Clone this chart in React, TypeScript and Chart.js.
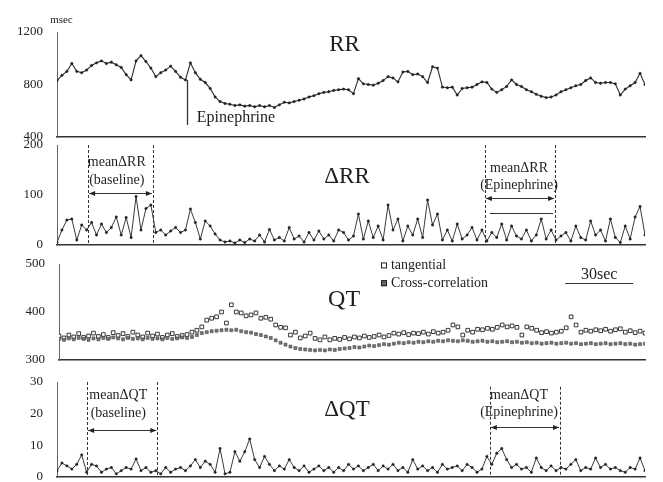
import React, { useEffect, useRef } from "react";
import { Chart, registerables } from "chart.js";

Chart.register(...registerables);

const SERIF = '"Liberation Serif", "DejaVu Serif", serif';

// ---- data (beat index along the recording) ----
const rrValues = [
  830, 870, 900, 960, 900, 890, 910, 945, 965, 980,
  960, 970, 950, 930, 875, 835, 980, 1020, 975, 925,
  860, 890, 910, 940, 900, 855, 835, 965, 890, 840,
  815, 770, 705, 670, 655, 650, 640, 645, 635, 640,
  630, 640, 630, 640, 625, 645, 665, 660, 670, 680,
  690, 705, 715, 730, 740, 745, 755, 760, 765, 760,
  730, 845, 805, 800, 795, 810, 830, 860, 850, 820,
  895, 900, 875, 880, 860, 815, 935, 925, 780, 775,
  780, 720, 770, 775, 780, 800, 820, 815, 765, 740,
  760, 785, 835, 800, 785, 760, 745, 725, 710, 700,
  705, 720, 745, 760, 775, 790, 800, 830, 850, 815,
  810, 815, 815, 805, 720, 765, 790, 815, 885, 800,
];

const dRRValues = [
  5, 30, 50, 52, 10, 40, 30, 45, 20, 42,
  25, 35, 56, 20, 55, 15, 97, 30, 73, 80,
  25, 30, 20, 28, 35, 25, 30, 72, 45, 12,
  48, 38, 22, 10, 6, 8, 4, 10, 5, 12,
  8, 20, 6, 31, 10, 15, 8, 35, 12, 18,
  6, 25, 10, 28, 12, 20, 8, 30, 25, 10,
  18, 62, 12, 48, 15, 38, 10, 80, 30, 52,
  8, 38, 20, 52, 15, 90, 40, 62, 10, 30,
  8, 42, 12, 20, 35, 10, 30, 8, 25, 15,
  42, 10, 38, 18, 12, 30, 8, 20, 52, 12,
  30, 10, 18, 25, 8, 38, 15, 10, 48, 20,
  30, 8, 52, 15, 5, 38, 12, 56, 77, 20,
];

const qtTangential = [
  350, 346, 352, 348, 355, 347, 350, 356, 349, 353,
  347, 357, 351, 355, 349, 358, 352, 348, 356, 350,
  354, 347, 352, 355, 349, 351, 353, 358, 362, 369,
  383, 387, 390, 400, 377, 415, 400, 398, 392, 394,
  398, 387, 389, 385, 373, 368, 367, 352, 358, 346,
  350, 356, 345, 342, 348, 342, 345, 343, 347, 344,
  348, 346, 350, 347, 349, 352, 348, 351, 356, 354,
  357, 353, 356, 355, 358, 354, 359, 356, 358, 362,
  373, 369, 352, 362, 358, 364, 363, 366, 364, 368,
  373, 369, 371, 368, 352, 369, 366, 362, 357, 359,
  356, 358, 360, 367, 390, 373, 358, 362, 360, 363,
  361, 364, 360, 363, 365, 358, 361, 357, 360, 356,
];

const qtCross = [
  344, 342, 345, 343, 346, 344, 342, 345, 343, 346,
  344, 347, 345, 343, 346, 344, 345, 343, 346, 344,
  345, 343, 346, 344, 345, 347, 346, 348, 352, 356,
  358, 360, 361, 362, 363, 362, 363, 360, 358, 357,
  354, 352, 349, 346, 341, 336, 332, 328, 325, 323,
  322, 321, 320, 321, 320, 322, 321, 323, 324, 325,
  327, 326, 328, 330, 329, 331, 333, 332, 334, 336,
  335, 337, 336, 338, 337, 339, 338, 340, 339, 341,
  340, 339, 341, 340, 338, 339, 340, 338, 339, 337,
  338, 339, 337, 338, 336, 337, 335, 336, 334, 335,
  336, 334, 335, 336, 334, 335, 333, 334, 335, 333,
  334, 335, 333, 334, 335, 333, 334, 332, 333, 334,
];

const dQTValues = [
  2, 4.4, 3.5, 2.5, 4, 7, 1.5, 4, 3.5, 1.5,
  2.5, 3, 1, 2, 3, 2.5, 5.7, 2, 3, 1.5,
  2, 1, 3, 1.5, 2.5, 3, 2, 3.5, 5.5, 3,
  5, 4, 1.5, 9, 1, 1.5, 8, 5, 8, 12,
  5.5, 3, 6.5, 4, 2, 3.5, 2.5, 5.5, 3, 2,
  3.5, 1.5, 2.5, 3.5, 2, 3, 1.5, 3, 2, 4,
  2.5, 3.5, 2, 3, 4, 2, 3.5, 2.5, 4, 2,
  3, 1.5, 5.5, 2.5, 3.5, 2, 3, 1.5, 4, 2.5,
  3, 3.5, 2, 4, 3, 1.5, 2.5, 6.5, 4, 7.5,
  9, 5.5, 3, 4, 2.5, 3, 1.5, 6, 3, 2,
  3.5, 2, 3, 2.5, 4, 5.5, 2, 3, 2.5, 6,
  3, 4, 2.5, 3, 2, 1.5, 3, 2.5, 6, 2,
];

const rrTicks = [400, 800, 1200];
const dRRTicks = [0, 100, 200];
const qtTicks = [300, 400, 500];
const dQTTicks = [0, 10, 20, 30];

const N = rrValues.length;
const CANVAS_W = 663;
const CANVAS_H = 500;

const pts = (arr: number[]) => arr.map((v, i) => ({ x: i, y: v }));

// ---- annotation plugin (positions in data units) ----
const annotPlugin = {
  id: "annot",
  afterDraw(chart: any, _args: any, opts: any) {
    const items = (opts && opts.items) || [];
    const ctx = chart.ctx as CanvasRenderingContext2D;
    const xs = chart.scales.x;
    const ys = chart.scales.y;
    const X = (v: number) => xs.getPixelForValue(v);
    const Y = (v: number) => ys.getPixelForValue(v);
    ctx.save();
    ctx.strokeStyle = "#333";
    ctx.fillStyle = "#1e1e1e";
    for (const it of items) {
      ctx.setLineDash([]);
      if (it.t === "text") {
        ctx.font = `${it.size}px ${SERIF}`;
        ctx.textAlign = it.align || "center";
        ctx.textBaseline = "middle";
        ctx.fillStyle = "#1e1e1e";
        ctx.fillText(it.text, X(it.x), Y(it.y));
      } else if (it.t === "vline" || it.t === "vdash") {
        if (it.t === "vdash") ctx.setLineDash([3, 2]);
        ctx.lineWidth = it.w || 1;
        const px = Math.round(X(it.x)) + 0.5;
        ctx.beginPath();
        ctx.moveTo(px, Y(it.y1));
        ctx.lineTo(px, Y(it.y2));
        ctx.stroke();
      } else if (it.t === "hline") {
        ctx.lineWidth = it.w || 1;
        const py = Math.round(Y(it.y)) + 0.5;
        ctx.beginPath();
        ctx.moveTo(X(it.x1), py);
        ctx.lineTo(X(it.x2), py);
        ctx.stroke();
      } else if (it.t === "arrow") {
        ctx.lineWidth = 1;
        const py = Math.round(Y(it.y)) + 0.5;
        const a = X(it.x1) + 1;
        const b = X(it.x2) - 1;
        ctx.beginPath();
        ctx.moveTo(a, py);
        ctx.lineTo(b, py);
        ctx.stroke();
        ctx.fillStyle = "#222";
        ctx.beginPath();
        ctx.moveTo(a, py);
        ctx.lineTo(a + 6, py - 2.5);
        ctx.lineTo(a + 6, py + 2.5);
        ctx.closePath();
        ctx.fill();
        ctx.beginPath();
        ctx.moveTo(b, py);
        ctx.lineTo(b - 6, py - 2.5);
        ctx.lineTo(b - 6, py + 2.5);
        ctx.closePath();
        ctx.fill();
      } else if (it.t === "square") {
        const cx = X(it.x);
        const cy = Y(it.y);
        ctx.lineWidth = 1;
        ctx.fillStyle = it.fill;
        ctx.fillRect(cx - 3, cy - 3, 6, 6);
        ctx.strokeStyle = "#222";
        ctx.strokeRect(cx - 2.5, cy - 2.5, 5, 5);
        ctx.strokeStyle = "#333";
      }
    }
    ctx.restore();
  },
};

type PanelCfg = {
  top: number;
  bottom: number;
  axisX: number;
  min: number;
  max: number;
  ticks: number[];
  datasets: any[];
  items: any[];
};

const panels: PanelCfg[] = [
  {
    top: 32,
    bottom: 137,
    axisX: 57,
    min: 400,
    max: 1200,
    ticks: rrTicks,
    datasets: [
      {
        data: pts(rrValues),
        borderColor: "#2a2a2a",
        borderWidth: 1.1,
        pointRadius: 1.2,
        pointBackgroundColor: "#222",
        pointBorderColor: "#222",
        pointBorderWidth: 0.5,
      },
    ],
    items: [
      { t: "text", text: "msec", x: 0.9, y: 1292, size: 11 },
      { t: "text", text: "RR", x: 58.2, y: 1100, size: 23 },
      { t: "vline", x: 26.3, y1: 835, y2: 492, w: 1.3 },
      { t: "text", text: "Epinephrine", x: 28.3, y: 548, size: 16, align: "left" },
    ],
  },
  {
    top: 145,
    bottom: 245,
    axisX: 57,
    min: 0,
    max: 200,
    ticks: dRRTicks,
    datasets: [
      {
        data: pts(dRRValues),
        borderColor: "#3a3a3a",
        borderWidth: 1,
        pointRadius: 1.2,
        pointBackgroundColor: "#222",
        pointBorderColor: "#222",
        pointBorderWidth: 0.5,
      },
    ],
    items: [
      { t: "vdash", x: 6.3, y1: 200, y2: 0 },
      { t: "vdash", x: 19.4, y1: 200, y2: 0 },
      { t: "text", text: "mean\u0394RR", x: 12.1, y: 166, size: 14 },
      { t: "text", text: "(baseline)", x: 12.1, y: 130, size: 14 },
      { t: "arrow", x1: 6.3, x2: 19.4, y: 104 },
      { t: "text", text: "\u0394RR", x: 58.7, y: 136, size: 23 },
      { t: "vdash", x: 86.6, y1: 200, y2: 0 },
      { t: "vdash", x: 100.8, y1: 200, y2: 0 },
      { t: "text", text: "mean\u0394RR", x: 93.5, y: 154, size: 14 },
      { t: "text", text: "(Epinephrine)", x: 93.5, y: 120, size: 14 },
      { t: "arrow", x1: 86.6, x2: 100.8, y: 94 },
      { t: "hline", x1: 87.6, x2: 100.4, y: 64, w: 1.2 },
    ],
  },
  {
    top: 264,
    bottom: 360,
    axisX: 59,
    min: 300,
    max: 500,
    ticks: qtTicks,
    datasets: [
      {
        label: "Cross-correlation",
        data: pts(qtCross),
        showLine: false,
        pointStyle: "rect",
        pointRadius: 2.1,
        pointBackgroundColor: "#777",
        pointBorderColor: "#444",
        pointBorderWidth: 0.6,
      },
      {
        label: "tangential",
        data: pts(qtTangential),
        showLine: false,
        pointStyle: "rect",
        pointRadius: 2.6,
        pointBackgroundColor: "#fff",
        pointBorderColor: "#222",
        pointBorderWidth: 0.9,
      },
    ],
    items: [
      { t: "square", x: 66.0, y: 497, fill: "#fff" },
      { t: "text", text: "tangential", x: 67.4, y: 497, size: 14, align: "left" },
      { t: "square", x: 66.0, y: 460, fill: "#666" },
      { t: "text", text: "Cross-correlation", x: 67.4, y: 460, size: 14, align: "left" },
      { t: "text", text: "QT", x: 57.9, y: 425, size: 24 },
      { t: "text", text: "30sec", x: 109.7, y: 478, size: 16 },
      { t: "hline", x1: 102.8, x2: 116.6, y: 461, w: 1.2 },
    ],
  },
  {
    top: 382,
    bottom: 477,
    axisX: 57,
    min: 0,
    max: 30,
    ticks: dQTTicks,
    datasets: [
      {
        data: pts(dQTValues),
        borderColor: "#3a3a3a",
        borderWidth: 1,
        pointRadius: 1.2,
        pointBackgroundColor: "#222",
        pointBorderColor: "#222",
        pointBorderWidth: 0.5,
      },
    ],
    items: [
      { t: "vdash", x: 6.1, y1: 30, y2: 0 },
      { t: "vdash", x: 20.3, y1: 30, y2: 0 },
      { t: "text", text: "mean\u0394QT", x: 12.4, y: 25.9, size: 14 },
      { t: "text", text: "(baseline)", x: 12.4, y: 20.2, size: 14 },
      { t: "arrow", x1: 6.1, x2: 20.3, y: 14.8 },
      { t: "text", text: "\u0394QT", x: 58.7, y: 21.2, size: 23 },
      { t: "vdash", x: 87.6, y1: 28.5, y2: 0 },
      { t: "vdash", x: 101.8, y1: 28.5, y2: 0 },
      { t: "text", text: "mean\u0394QT", x: 93.5, y: 25.9, size: 14 },
      { t: "text", text: "(Epinephrine)", x: 93.5, y: 20.5, size: 14 },
      { t: "arrow", x1: 87.6, x2: 101.8, y: 15.8 },
    ],
  },
];

function Panel({ cfg }: { cfg: PanelCfg }) {
  const ref = useRef<HTMLCanvasElement>(null);
  useEffect(() => {
    const chart = new Chart(ref.current as HTMLCanvasElement, {
      type: "line",
      data: { datasets: cfg.datasets },
      plugins: [annotPlugin as any],
      options: {
        responsive: false,
        animation: false,
        devicePixelRatio: 1,
        layout: {
          padding: { left: 0, right: 18, top: cfg.top, bottom: CANVAS_H - cfg.bottom },
        },
        elements: { line: { tension: 0 } },
        plugins: {
          legend: { display: false },
          tooltip: { enabled: false },
          annot: { items: cfg.items },
        } as any,
        scales: {
          x: {
            type: "linear",
            min: 0,
            max: N - 1,
            grid: { display: false, drawTicks: false },
            ticks: { display: false },
            border: { display: true, color: "#333", width: 1.5 },
          },
          y: {
            type: "linear",
            min: cfg.min,
            max: cfg.max,
            afterFit: (s: any) => {
              s.width = cfg.axisX;
            },
            afterBuildTicks: (s: any) => {
              s.ticks = cfg.ticks.map((v) => ({ value: v }));
            },
            grid: { display: false, drawTicks: false },
            border: { display: true, color: "#666", width: 1 },
            ticks: {
              font: { family: SERIF, size: 13 },
              color: "#222",
              padding: 14,
              callback: (v: any) => String(v),
            },
          },
        },
      } as any,
    });
    return () => chart.destroy();
  }, []);
  return (
    <canvas
      ref={ref}
      width={CANVAS_W}
      height={CANVAS_H}
      style={{ position: "absolute", left: 0, top: 0, width: CANVAS_W, height: CANVAS_H }}
    />
  );
}

export default function App() {
  return (
    <div
      style={{
        position: "fixed",
        left: 0,
        top: 0,
        width: CANVAS_W,
        height: 482,
        overflow: "hidden",
        background: "#fff",
      }}
    >
      {panels.map((p, i) => (
        <Panel key={i} cfg={p} />
      ))}
    </div>
  );
}
